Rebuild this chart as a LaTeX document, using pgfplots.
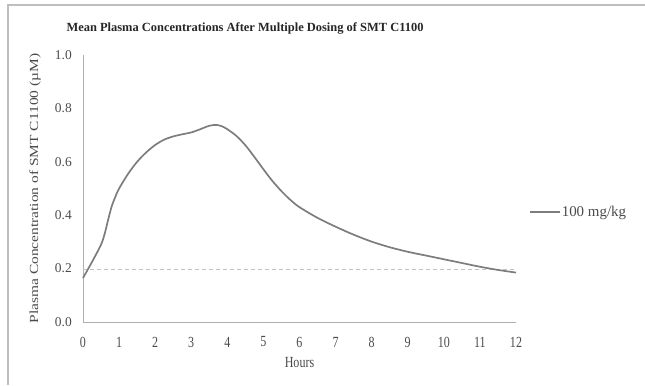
\documentclass[border=0pt]{standalone}
\usepackage{pgfplots}
\pgfplotsset{compat=1.18}
\usepackage{fontspec}
\setmainfont{Liberation Serif}
\usepackage{graphicx}
\definecolor{linegray}{RGB}{125,125,125}
\definecolor{axgray}{RGB}{175,175,175}
\definecolor{framegray}{RGB}{190,190,190}
\definecolor{dashgray}{RGB}{195,195,195}
\definecolor{txt}{RGB}{75,75,75}
\newcommand{\sq}[1]{\scalebox{0.78}[1]{#1}}
\begin{document}
\begin{tikzpicture}[x=1bp,y=1bp]
\useasboundingbox (0,0) rectangle (645,385);
\draw[framegray,line width=1.4bp] (8,0) -- (8,380) -- (645,380);
\node[font=\fontsize{12.5}{14}\selectfont\bfseries,text=black!85] at (245,357) {Mean Plasma Concentrations After Multiple Dosing of SMT C1100};
\begin{axis}[
  at={(83bp,63bp)}, anchor=south west,
  width=433bp, height=267bp, scale only axis,
  xmin=0, xmax=12, ymin=0, ymax=1,
  axis x line=bottom, axis y line=left,
  axis line style={axgray,line width=0.9bp,-},
  xtick={0,1,...,12}, ytick={0,0.2,...,1.0},
  major tick length=0pt,
  /pgf/number format/assume math mode=true,
  yticklabel style={/pgf/number format/fixed,/pgf/number format/fixed zerofill,/pgf/number format/precision=1,
     font=\fontsize{13.5}{15}\selectfont,text=txt,inner sep=0pt,anchor=east,xshift=-11bp},
  xticklabel={\sq{\pgfmathprintnumber{\tick}}},
  xticklabel style={font=\fontsize{15.5}{17}\selectfont,text=txt,inner sep=0pt,anchor=center,yshift=-20bp},
  xlabel={\sq{Hours}}, ylabel={\scalebox{1}[0.8]{Plasma Concentration of SMT C1100 (µM)}},
  xlabel style={font=\fontsize{15.5}{17}\selectfont,text=txt,at={(axis description cs:0.5,0)},anchor=center,yshift=-41bp},
  ylabel style={font=\fontsize{15.5}{17}\selectfont,text=txt,at={(axis description cs:0,0.5)},anchor=center,yshift=48bp},
  legend style={at={(1.030,0.412)},anchor=west,draw=none,fill=none,font=\fontsize{15}{17}\selectfont,text=txt,inner sep=0pt,nodes={inner sep=1bp}},
  legend cell align=left,
  legend image code/.code={\draw[#1,line width=1.6bp] (0bp,0bp) -- (30bp,0bp);},
  clip=false,
]
\addplot[dashgray,line width=1bp,dash pattern=on 4bp off 3bp,forget plot] coordinates {(0,0.195) (12,0.195)};
\addplot[linegray,line width=1.7bp,smooth,tension=0.5] coordinates {
(0,0.165) (0.25,0.225) (0.5,0.29) (0.6,0.33) (0.7,0.385) (0.8,0.435) (0.9,0.47) (1,0.5) (1.25,0.555) (1.5,0.6) (1.75,0.635) (2,0.663) (2.25,0.683) (2.5,0.695) (2.75,0.703) (3,0.71) (3.25,0.722) (3.5,0.735) (3.7,0.738) (3.85,0.733) (4,0.722) (4.25,0.697) (4.5,0.662) (4.75,0.618) (5,0.572) (5.25,0.528) (5.5,0.49) (5.75,0.457) (6,0.43) (6.5,0.39) (7,0.357) (7.5,0.327) (8,0.301) (8.5,0.28) (9,0.263) (9.5,0.249) (10,0.235) (10.5,0.221) (11,0.207) (11.5,0.195) (12,0.185)};
\addlegendentry{100 mg/kg}
\end{axis}
\end{tikzpicture}
\end{document}
